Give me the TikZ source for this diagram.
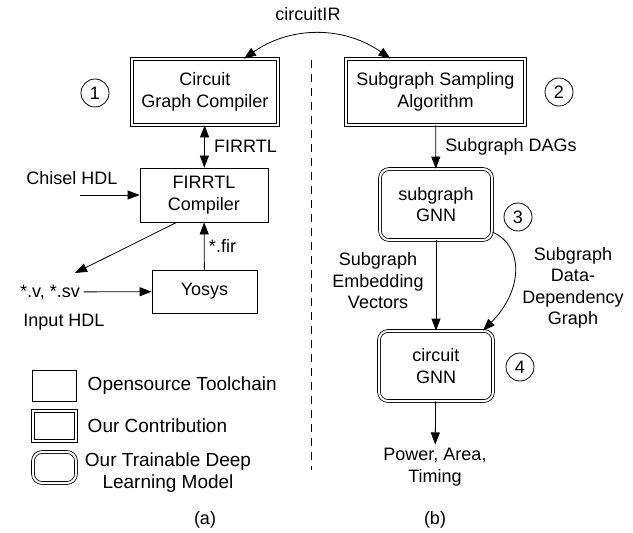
\documentclass[tikz,border=0pt]{standalone}
\usepackage{fontspec}
\setmainfont{Liberation Sans}
\usetikzlibrary{arrows.meta}

\begin{document}
\begin{tikzpicture}[x=1pt,y=-1pt,line width=0.8pt,
  >={Triangle[length=12pt,width=9pt]},
  font=\fontsize{18}{21.5}\selectfont]

\tikzstyle{tool}=[rectangle,draw,align=center]
\tikzstyle{ours}=[rectangle,draw,double,double distance=2pt,align=center]
\tikzstyle{model}=[rectangle,draw,double,double distance=2pt,rounded corners=9pt,align=center]
\tikzstyle{stepnum}=[circle,draw,minimum size=28pt,inner sep=0pt]
\tikzstyle{lbl}=[align=center]
\tikzstyle{legtext}=[font=\fontsize{19}{22}\selectfont]

\useasboundingbox (0,0) rectangle (633,533);

% (a) toolchain
\node[ours,minimum width=146pt,minimum height=66pt] (ccg)   at (205,  92) {Circuit\\Graph Compiler} ;
\node[tool,minimum width=128pt,minimum height=54pt] (firc)  at (204, 195) {FIRRTL\\Compiler} ;
\node[tool,minimum width=105pt,minimum height=43pt] (yosys) at (204.5,291.5) {Yosys} ;
\node[stepnum] (s1) at (95,93) {1} ;

\node       (chisel) at (72, 178) {Chisel HDL} ;
\coordinate (chin)   at (80, 195) ;
\node       (vsv)    at (50, 292) {*.v, *.sv} ;
\node       (inhdl)  at (64, 322) {Input HDL} ;
\coordinate (vtip)   at (75, 273) ;

\draw [<->] (ccg) -- node[right,xshift=6pt] {FIRRTL} (firc) ;
\draw [->] (chin) -- (firc) ;
\draw [->] (firc.225) -- (vtip) ;
\draw [->] (vsv) -- (yosys) ;
\draw [->] (yosys) -- node[right,xshift=1pt] {*.fir} (firc) ;

% legend
\node[tool, minimum width=44pt,minimum height=31pt] (leg1) at (54, 385.5) {} ;
\node[ours, minimum width=43pt,minimum height=30pt] (leg2) at (54.5,426) {} ;
\node[model,minimum width=43pt,minimum height=31pt] (leg3) at (54.5,467.5) {} ;
\node[legtext,anchor=west] (leg1t) at (84, 386) {Opensource Toolchain} ;
\node[legtext,anchor=west] (leg2t) at (84, 426) {Our Contribution} ;
\node[legtext,lbl]         (leg3t) at (168,473) {Our Trainable Deep\\Learning Model} ;

% separator
\coordinate (sepa) at (311, 60) ;
\coordinate (sepb) at (311,470) ;
\draw [dash pattern=on 8pt off 6pt] (sepa) -- (sepb) ;

% (b) GNN flow
\node[ours, minimum width=179pt,minimum height=66pt] (ssa)  at (435.5, 92) {Subgraph Sampling\\Algorithm} ;
\node[model,minimum width=112pt,minimum height=71pt] (sgnn) at (436, 204.5) {subgraph\\GNN} ;
\node[model,minimum width=114pt,minimum height=70pt] (cgnn) at (436, 366) {circuit\\GNN} ;
\node[stepnum] (s2) at (559, 92) {2} ;
\node[stepnum] (s3) at (518,217) {3} ;
\node[stepnum] (s4) at (520,367) {4} ;
\node[lbl] (ppa) at (435,467) {Power, Area,\\Timing} ;

\draw [->] (ssa) -- node[right,xshift=6pt] {Subgraph DAGs} (sgnn) ;
\draw [->] (sgnn) -- (cgnn) ;
\draw [->] (sgnn.-26) .. controls +(32,14) and +(40,-40) .. (cgnn.37) ;
\draw [->] (cgnn) -- (ppa) ;

\node[lbl] (embl) at (378,281) {Subgraph\\Embedding\\Vectors} ;
\node[lbl] (ddgl) at (573,288) {Subgraph\\Data-\\Dependency\\Graph} ;

% circuitIR hand-over
\node (cir) at (308,14) {circuitIR} ;
\draw [<->] ([xshift=39pt]ccg.north) to[bend left=35] ([xshift=-45pt]ssa.north) ;

\node (capa) at (205,520) {(a)} ;
\node (capb) at (435,520) {(b)} ;

\end{tikzpicture}
\end{document}
